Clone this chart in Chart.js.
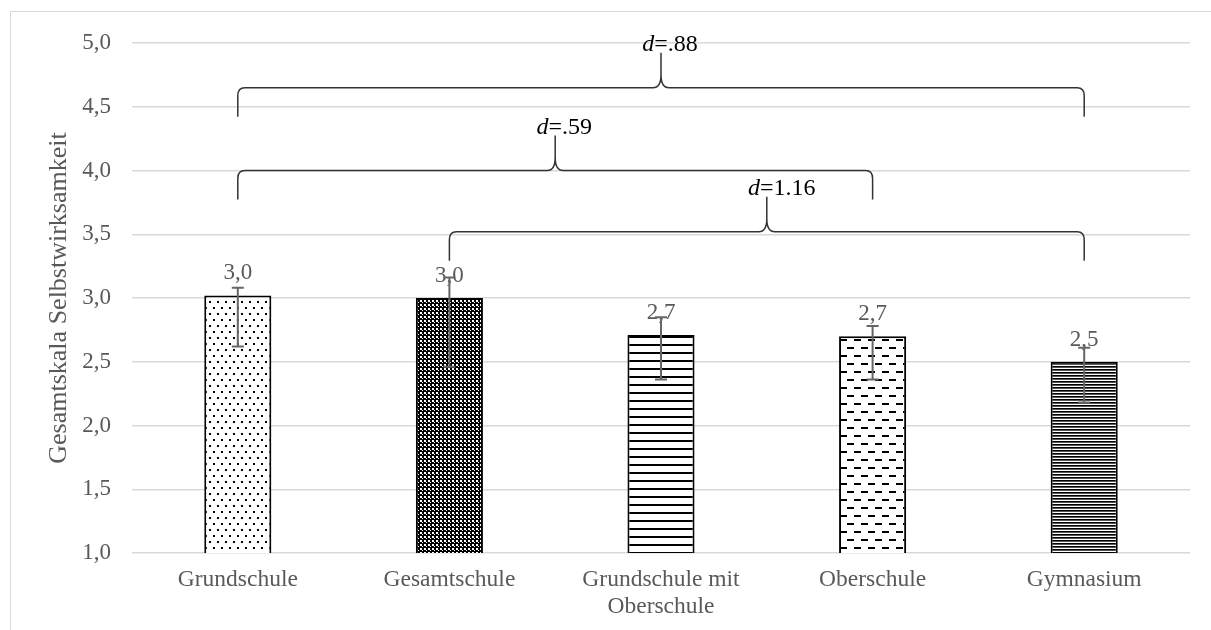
<!DOCTYPE html>
<html lang="de">
<head>
<meta charset="utf-8">
<title>Gesamtskala Selbstwirksamkeit</title>
<script src="https://cdn.jsdelivr.net/npm/chart.js@4.4.1/dist/chart.umd.min.js"></script>
<style>
  html, body { margin: 0; padding: 0; background: #fff; }
  #wrap { width: 1211px; height: 630px; }
</style>
</head>
<body>
<div id="wrap"><canvas id="chart" width="1211" height="630"></canvas></div>
<script>
// Daten
const categories = ['Grundschule', 'Gesamtschule', ['Grundschule mit', 'Oberschule'], 'Oberschule', 'Gymnasium'];
const means = [3.02, 3.00, 2.71, 2.70, 2.50];
const errLow = [2.62, 2.46, 2.36, 2.36, 2.18];
const errHigh = [3.08, 3.16, 2.85, 2.78, 2.61];
const yTicks = [1.0, 1.5, 2.0, 2.5, 3.0, 3.5, 4.0, 4.5, 5.0];

// Effektstärken (Klammern zwischen Schulformen)
const braceFrom = [0, 0, 1];
const braceTo = [4, 3, 4];
const braceLevel = [4.65, 4.0, 3.52];
const braceLabel = ['.88', '.59', '1.16'];

const serif = '"Liberation Serif", "Times New Roman", serif';
const grey = '#595959';
const fmt = v => v.toFixed(1).replace('.', ',');

// Schraffuren
function makePattern(w, h, paint) {
    const c = document.createElement('canvas');
    c.width = w;
    c.height = h;
    const g = c.getContext('2d');
    paint(g);
    return g.createPattern(c, 'repeat');
}

const dotted = makePattern(8, 12, g => {
    g.fillStyle = '#fff'; g.fillRect(0, 0, 8, 12);
    g.fillStyle = '#000'; g.fillRect(1, 1, 2, 2); g.fillRect(5, 7, 2, 2);
});
const checker = makePattern(4, 4, g => {
    g.fillStyle = '#000'; g.fillRect(0, 0, 4, 4);
    g.fillStyle = '#fff'; g.fillRect(0, 0, 2, 2); g.fillRect(2, 2, 1, 1);
});
const striped = makePattern(8, 8, g => {
    g.fillStyle = '#fff'; g.fillRect(0, 0, 8, 8);
    g.fillStyle = '#000'; g.fillRect(0, 0, 8, 2);
});
const dashed = makePattern(14, 16, g => {
    g.fillStyle = '#fff'; g.fillRect(0, 0, 14, 16);
    g.fillStyle = '#000'; g.fillRect(0, 3, 7, 2); g.fillRect(7, 11, 7, 2);
});
const dense = makePattern(3, 3, g => {
    g.fillStyle = '#fff'; g.fillRect(0, 0, 3, 3);
    g.fillStyle = '#000'; g.fillRect(0, 0, 3, 1);
    g.fillStyle = '#555'; g.fillRect(0, 1, 3, 1);
});

// Rahmen um das Diagramm
const frame = {
    id: 'frame',
    beforeDraw(chart) {
        const ctx = chart.ctx;
        ctx.save();
        ctx.strokeStyle = '#d9d9d9';
        ctx.lineWidth = 1;
        ctx.strokeRect(10.5, 11.5, 1400, 800);
        ctx.restore();
    }
};

// Werte-Beschriftung und Fehlerbalken
const barExtras = {
    id: 'barExtras',
    afterDatasetsDraw(chart) {
        const ctx = chart.ctx;
        const y = chart.scales.y;
        const bars = chart.getDatasetMeta(0).data;
        ctx.save();
        ctx.font = '23px ' + serif;
        ctx.fillStyle = grey;
        ctx.textAlign = 'center';
        ctx.textBaseline = 'alphabetic';
        bars.forEach((bar, i) => ctx.fillText(fmt(means[i]), bar.x, bar.y - 16));

        ctx.strokeStyle = '#666';
        ctx.lineWidth = 2;
        bars.forEach((bar, i) => {
            const lo = y.getPixelForValue(errLow[i]);
            const hi = y.getPixelForValue(errHigh[i]);
            ctx.beginPath();
            ctx.moveTo(bar.x, lo); ctx.lineTo(bar.x, hi);
            ctx.moveTo(bar.x - 6, lo); ctx.lineTo(bar.x + 6, lo);
            ctx.moveTo(bar.x - 6, hi); ctx.lineTo(bar.x + 6, hi);
            ctx.stroke();
        });
        ctx.restore();
    }
};

function drawBrace(ctx, x1, x2, yl) {
    const mid = (x1 + x2) / 2;
    ctx.beginPath();
    ctx.moveTo(x1, yl + 29);
    ctx.lineTo(x1, yl + 8);
    ctx.quadraticCurveTo(x1, yl, x1 + 7, yl);
    ctx.lineTo(mid - 8, yl);
    ctx.quadraticCurveTo(mid, yl, mid, yl - 13);
    ctx.lineTo(mid, yl - 35);
    ctx.moveTo(mid, yl - 13);
    ctx.quadraticCurveTo(mid, yl, mid + 8, yl);
    ctx.lineTo(x2 - 7, yl);
    ctx.quadraticCurveTo(x2, yl, x2, yl + 8);
    ctx.lineTo(x2, yl + 29);
    ctx.stroke();
}

// Klammern mit d-Werten
const braces = {
    id: 'braces',
    afterDraw(chart) {
        const ctx = chart.ctx;
        const x = chart.scales.x;
        const y = chart.scales.y;
        ctx.save();
        ctx.strokeStyle = '#333';
        ctx.lineWidth = 1.5;
        ctx.fillStyle = '#000';
        ctx.textBaseline = 'alphabetic';
        ctx.textAlign = 'left';
        braceLabel.forEach((lbl, i) => {
            const x1 = x.getPixelForValue(braceFrom[i]);
            const x2 = x.getPixelForValue(braceTo[i]);
            const yl = y.getPixelForValue(braceLevel[i]);
            drawBrace(ctx, x1, x2, yl);
            const mid = (x1 + x2) / 2;
            ctx.font = 'italic 24px ' + serif;
            const wd = ctx.measureText('d').width;
            ctx.font = '24px ' + serif;
            const weq = ctx.measureText('=').width;
            const start = mid - wd - weq / 2;
            ctx.font = 'italic 24px ' + serif;
            ctx.fillText('d', start, yl - 37);
            ctx.font = '24px ' + serif;
            ctx.fillText('=' + lbl, start + wd, yl - 37);
        });
        ctx.restore();
    }
};

const ctx = document.getElementById('chart').getContext('2d');
const chart = new Chart(ctx, {
    type: 'bar',
    data: {
        labels: categories,
        datasets: [{
            data: means,
            backgroundColor: [dotted, checker, striped, dashed, dense],
            borderColor: '#000',
            borderWidth: 2,
            categoryPercentage: 1,
            barPercentage: 0.317
        }]
    },
    options: {
        responsive: false,
        animation: false,
        layout: { padding: { top: 43, right: 21, bottom: 0, left: 0 } },
        plugins: {
            legend: { display: false },
            tooltip: { enabled: false }
        },
        scales: {
            x: {
                grid: { display: false, drawTicks: false },
                border: { display: false },
                ticks: {
                    color: grey,
                    font: { family: serif, size: 23.5, lineHeight: 1.17 },
                    padding: 13,
                    maxRotation: 0,
                    autoSkip: false
                },
                afterFit: s => { s.height = 77; }
            },
            y: {
                min: 1,
                max: 5,
                afterBuildTicks: s => { s.ticks = yTicks.map(v => ({ value: v })); },
                grid: { color: '#d9d9d9', lineWidth: 1.5, drawTicks: false },
                border: { display: false },
                ticks: {
                    color: grey,
                    font: { family: serif, size: 23 },
                    padding: 21,
                    callback: v => fmt(v)
                },
                title: {
                    display: true,
                    text: 'Gesamtskala Selbstwirksamkeit',
                    color: grey,
                    font: { family: serif, size: 26 },
                    padding: { top: 44, bottom: 0 }
                },
                afterFit: s => { s.width = 132; }
            }
        }
    },
    plugins: [frame, barExtras, braces]
});
</script>
</body>
</html>
